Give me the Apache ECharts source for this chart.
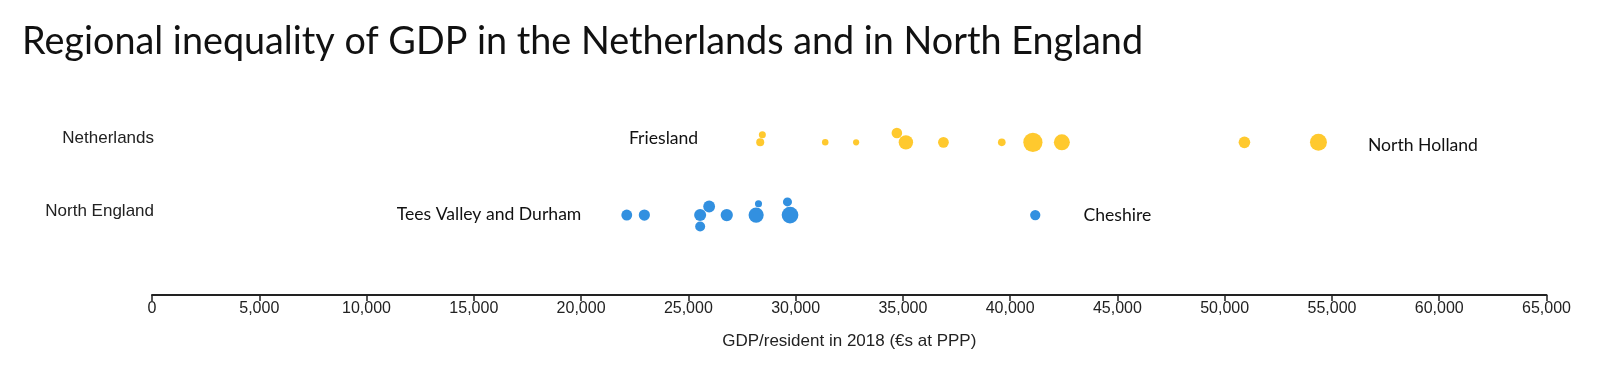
<!DOCTYPE html>
<html>
<head>
<meta charset="utf-8">
<script src="https://cdn.jsdelivr.net/npm/echarts@6/dist/echarts.min.js"></script>
<style>
html,body{margin:0;padding:0;background:#fff;}
#chart{width:1610px;height:384px;}
</style>
</head>
<body>
<div id="chart"></div>
<script>
// ---- data ----
const title = 'Regional inequality of GDP in the Netherlands and in North England';
const axisTitle = 'GDP/resident in 2018 (€s at PPP)';
const categories = ['Netherlands', 'North England'];
// GDP per resident (€ at PPP), one point per region
const nlGdp = [28350, 28450, 31380, 32820, 34720, 35140, 36890, 39610, 41060, 42410, 50920, 54370];
// population (thousands), drives bubble area
const nlPop = [640, 490, 420, 383, 1120, 2080, 1160, 585, 3700, 2560, 1350, 2880];
const nlLabels = ['Friesland', '', '', '', '', '', '', '', '', '', '', 'North Holland'];
const neGdp = [22130, 22950, 25550, 25970, 25550, 26790, 28160, 28270, 29740, 29620, 41170];
const nePop = [1180, 1250, 1450, 1400, 1000, 1500, 2300, 500, 2800, 820, 1060];
const neLabels = ['Tees Valley and Durham', '', '', '', '', '', '', '', '', '', 'Cheshire'];
const xMin = 0, xMax = 65000, xStep = 5000;

// ---- styles ----
const colors = ['#FFC92E', '#3290E0'];
const labelStyle = {
  'Friesland': {position: 'left', distance: 58, offset: [0, -4]},
  'North Holland': {position: 'right', distance: 41, offset: [0, 3]},
  'Tees Valley and Durham': {position: 'left', distance: 40, offset: [0, -1]},
  'Cheshire': {position: 'right', distance: 43, offset: [0, 0]}
};
const annFont = 'Lato';
function sizeOf(pop) { return Math.sqrt(pop / 10); }
function commas(v) { return String(v).replace(/\B(?=(\d{3})+(?!\d))/g, ','); }

const chart = echarts.init(document.getElementById('chart'), null, {renderer: 'canvas'});

function buildSeries(gdp, pop, labels, catIdx, color, offsets) {
  return {
    type: 'scatter',
    name: categories[catIdx],
    animation: false,
    itemStyle: {color: color, opacity: 1},
    emphasis: {disabled: true},
    data: gdp.map((g, i) => {
      const item = {
        value: [g, catIdx],
        symbolSize: sizeOf(pop[i]),
        symbolOffset: [0, offsets ? offsets[i] : 0]
      };
      if (labels[i]) {
        const ls = labelStyle[labels[i]];
        item.label = {
          show: true,
          position: ls.position,
          distance: ls.distance,
          offset: ls.offset,
          formatter: labels[i],
          fontFamily: annFont,
          fontSize: 17.6,
          color: '#111'
        };
      }
      return item;
    })
  };
}

function makeOption(offA, offB) {
  return {
    animation: false,
    backgroundColor: '#fff',
    title: {
      text: title,
      left: 22,
      top: 23,
      padding: 0,
      textStyle: {fontFamily: 'Lato', fontSize: 37.75, fontWeight: 'normal', color: '#111'}
    },
    grid: {left: 152, right: 63.5, top: 106, bottom: 132.6, containLabel: false},
    xAxis: {
      type: 'value',
      min: xMin, max: xMax, interval: xStep,
      offset: 43.6,
      position: 'bottom',
      splitLine: {show: false},
      axisLine: {show: true, lineStyle: {color: '#222', width: 2}},
      axisTick: {show: true, length: 6, lineStyle: {color: '#222', width: 1.5}},
      axisLabel: {
        formatter: commas, fontFamily: 'Liberation Sans', fontSize: 16, color: '#222', margin: 6,
        showMinLabel: true, showMaxLabel: true
      },
      name: axisTitle,
      nameLocation: 'middle',
      nameGap: 38,
      nameTextStyle: {fontFamily: 'Liberation Sans', fontSize: 17, color: '#222'}
    },
    yAxis: {
      type: 'category',
      data: categories,
      inverse: true,
      axisLine: {show: false},
      axisTick: {show: false},
      splitLine: {show: false},
      axisLabel: {
        fontFamily: 'Liberation Sans', fontSize: 17, color: '#222', margin: -2,
        verticalAlign: 'bottom', lineHeight: 7.4
      }
    },
    series: [
      buildSeries(nlGdp, nlPop, nlLabels, 0, colors[0], offA),
      buildSeries(neGdp, nePop, neLabels, 1, colors[1], offB)
    ]
  };
}

chart.setOption(makeOption(null, null));

// beeswarm: place bigger bubbles first, move colliding ones up/down the least
function swarm(gdp, pop) {
  const pad = 0.5;
  const pts = gdp.map((g, i) => ({i, x: chart.convertToPixel({xAxisIndex: 0}, g), r: sizeOf(pop[i]) / 2}));
  const order = pts.slice().sort((a, b) => (b.r - a.r) || (a.i - b.i));
  const placed = [];
  const off = new Array(gdp.length).fill(0);
  for (const p of order) {
    const cands = [0];
    for (const q of placed) {
      const dx = p.x - q.x, R = p.r + q.r + pad;
      if (Math.abs(dx) < R) {
        const h = Math.sqrt(R * R - dx * dx);
        cands.push(q.y - h, q.y + h);
      }
    }
    cands.sort((a, b) => (Math.abs(a) - Math.abs(b)) || (a - b));
    let y = 0;
    for (const c of cands) {
      let ok = true;
      for (const q of placed) {
        const dx = p.x - q.x, dy = c - q.y, R = p.r + q.r + pad;
        if (dx * dx + dy * dy < R * R - 1e-6) { ok = false; break; }
      }
      if (ok) { y = c; break; }
    }
    placed.push({x: p.x, y, r: p.r});
    off[p.i] = y;
  }
  return off;
}

chart.setOption(makeOption(swarm(nlGdp, nlPop), swarm(neGdp, nePop)), true);
</script>
</body>
</html>
